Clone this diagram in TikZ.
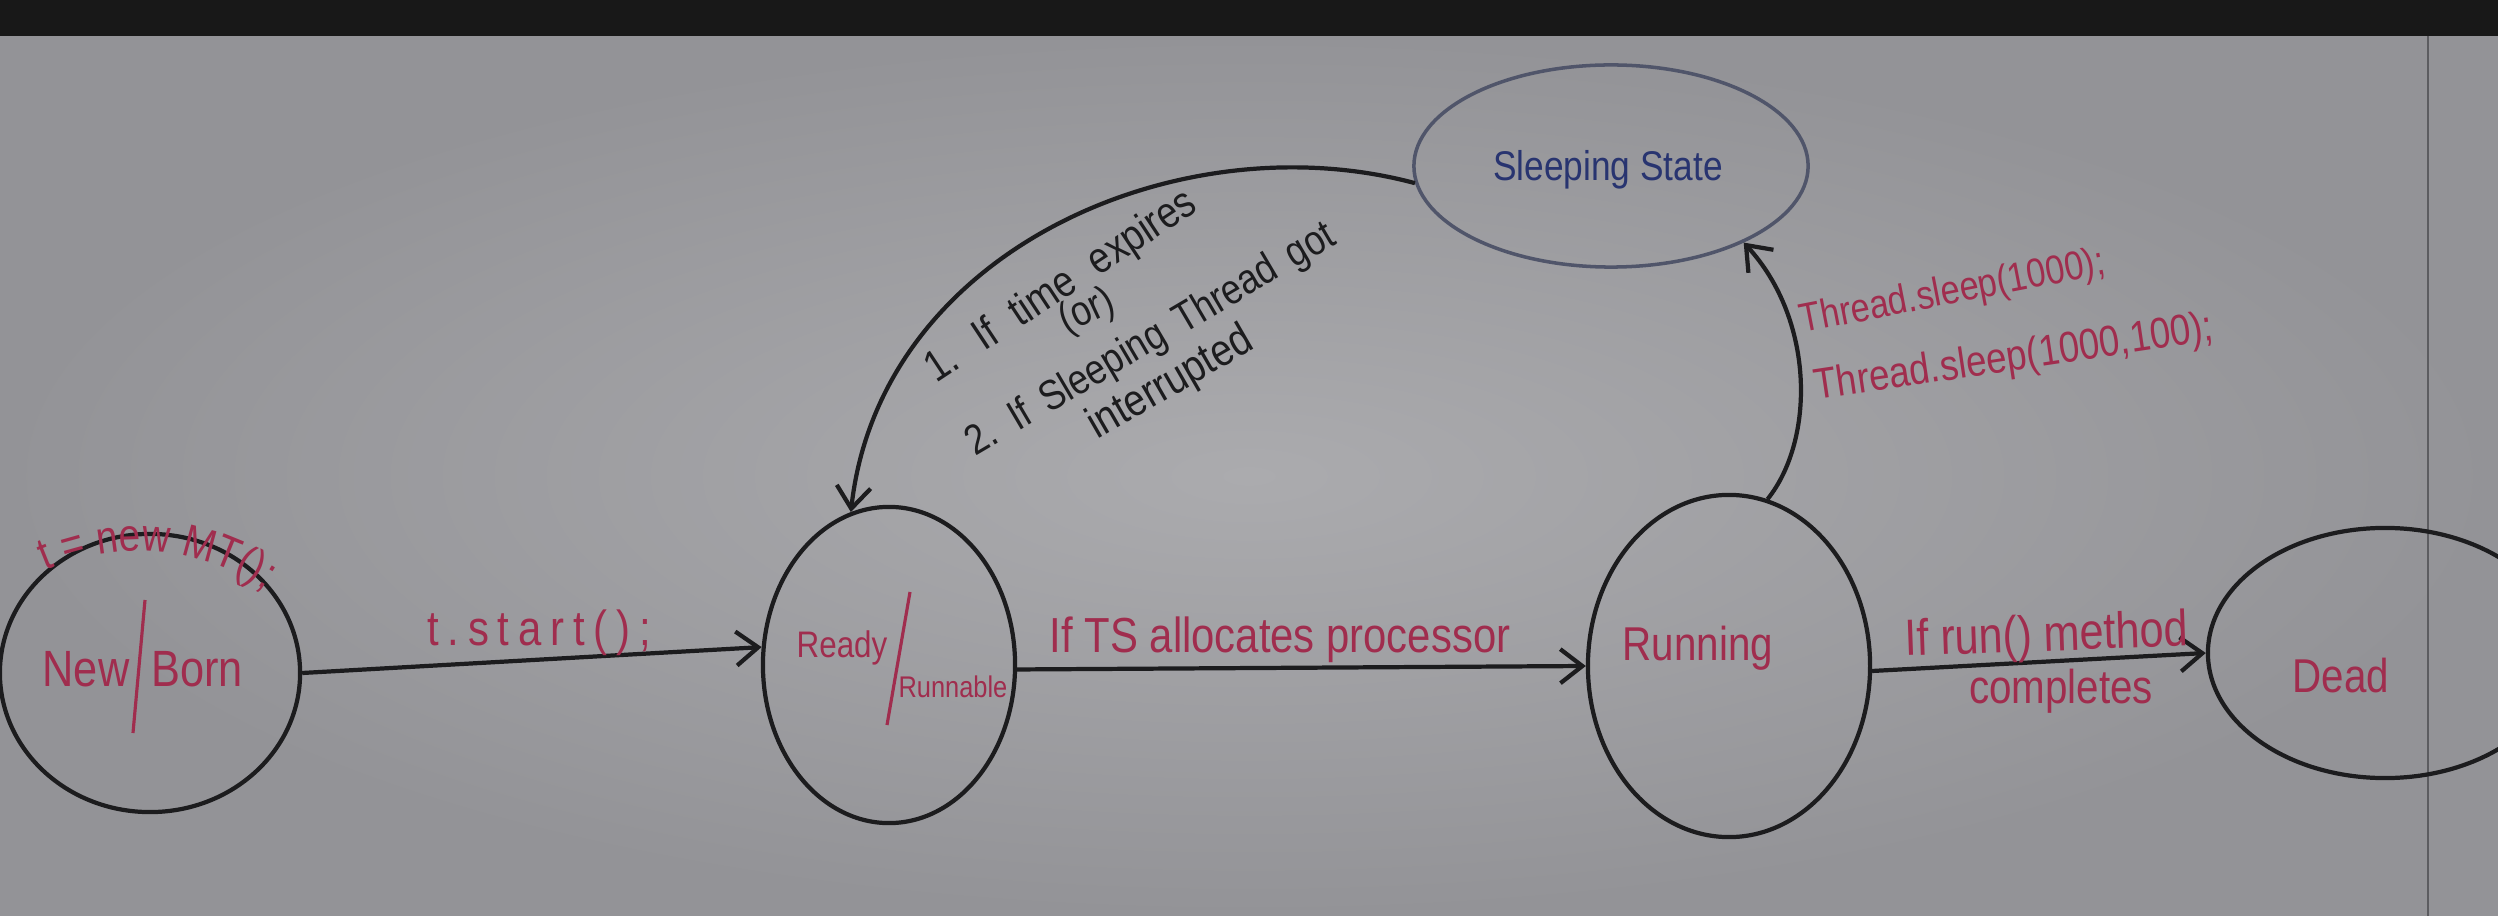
\documentclass[tikz,border=0pt]{standalone}
\usepackage{fontspec}
\setmainfont{Liberation Sans}
\newfontfamily\hand[FakeStretch=0.85]{Liberation Sans}
\usetikzlibrary{shapes.geometric,arrows.meta,decorations.text}
\definecolor{redink}{RGB}{160,45,78}
\definecolor{blueink}{RGB}{40,52,112}
\definecolor{inkblack}{RGB}{28,28,30}
\definecolor{sleepline}{RGB}{80,85,106}
\definecolor{wbin}{RGB}{171,171,174}
\definecolor{wbout}{RGB}{147,147,151}
\definecolor{topbar}{RGB}{24,24,24}
\definecolor{edgeline}{RGB}{92,92,96}
\begin{document}
\begin{tikzpicture}[x=0.01cm,y=-0.01cm,
  state/.style={ellipse, draw=inkblack, line width=1.2pt, inner sep=0pt},
  redlbl/.style={text=redink, font=\hand\fontsize{14}{16}\selectfont, inner sep=0pt},
  blklbl/.style={text=inkblack, font=\hand\fontsize{13.5}{16}\selectfont, inner sep=0pt},
  conn/.style={draw=inkblack, line width=1.2pt, -{Straight Barb[length=2.2mm,width=3.4mm]}},
  slashline/.style={draw=redink, line width=0.9pt}]
\useasboundingbox (0,0) rectangle (2498,916);
\clip (0,0) rectangle (2498,916);
% background
\shade[inner color=wbin, outer color=wbout] (0,36) rectangle (2498,916);
\fill[topbar] (0,0) rectangle (2498,36);
\draw[edgeline, line width=0.8pt] (2428,36) -- (2428,916);

% states
\node[state, minimum width=3.00cm, minimum height=2.78cm] (nb) at (150,673) {};
\node[state, minimum width=2.52cm, minimum height=3.16cm] (rd) at (889,665) {};
\node[state, minimum width=2.82cm, minimum height=3.42cm] (rn) at (1729,666) {};
\node[state, minimum width=3.54cm, minimum height=2.50cm] (dd) at (2385,653) {};
\node[state, draw=sleepline, line width=1.0pt, minimum width=3.94cm, minimum height=2.02cm] (sl) at (1611,166) {};

% state texts
\node[redlbl, anchor=base, font=\hand\fontsize{14.5}{16}\selectfont] (tNew) at (86,686) {New};
\node[redlbl, anchor=base, font=\hand\fontsize{14.5}{16}\selectfont] (tBorn) at (197,686) {Born};
\draw[slashline] (145,600) -- (133,733);
\node[redlbl, anchor=base, font=\hand\fontsize{10.5}{12}\selectfont] (tReady) at (842,657) {Ready};
\node[redlbl, anchor=base, font=\hand\fontsize{8.5}{10}\selectfont] (tRunnable) at (953,697) {Runnable};
\draw[slashline] (910,592) -- (887,725);
\node[redlbl, anchor=base west, font=\hand\fontsize{13.5}{16}\selectfont] (tRunning) at (1622,660) {Running};
\node[redlbl, anchor=base, font=\hand\fontsize{13.5}{16}\selectfont] (tDead) at (2341,692) {Dead};
\node[text=blueink, inner sep=0pt, anchor=base, font=\hand\fontsize{11.8}{14}\selectfont] (tSleep) at (1608,181) {Sleeping State};

% creation text along arc
\path[decorate, decoration={text along path, text align=center,
  text={|\hand\fontsize{13}{15}\selectfont\color{redink}|t = new MT();}}]
  (5,592) .. controls (90,538) and (200,528) .. (302,618);

% connectors
\draw[conn] (nb.0) -- (rd.172);
\draw[conn] (rd.-2) -- (rn.180);
\draw[conn] (rn.-2) -- (dd.180);
\draw[conn] (rn.77) .. controls (1815,440) and (1815,320) .. (sl.-30);
\draw[conn] (sl.185) .. controls (1180,120) and (880,250) .. (rd.104);

% connector labels
\node[redlbl, anchor=base, font={\hand\fontsize{14}{16}\selectfont\addfontfeature{LetterSpace=18}}] (lStart) at (539,645) {t.start();};
\node[redlbl, anchor=base] (lTS) at (1280,652) {If TS allocates processor};
\node[redlbl, anchor=base, rotate=2, font=\hand\fontsize{14.5}{16}\selectfont] (lRun1) at (2047,651) {If run() method};
\node[redlbl, anchor=base, font=\hand\fontsize{13.5}{16}\selectfont] (lRun2) at (2061,703) {completes};
\node[redlbl, anchor=base west, rotate=11, font=\hand\fontsize{11.5}{14}\selectfont] (lSl1) at (1802,333) {Thread.sleep(1000);};
\node[redlbl, anchor=base west, rotate=8.5, font=\hand\fontsize{12.3}{15}\selectfont] (lSl2) at (1816,400) {Thread.sleep(1000,100);};
\node[blklbl, anchor=base west, rotate=33.5, font={\hand\fontsize{12.5}{15}\selectfont\spaceskip=0.52em\relax}] (lW1) at (936,384) {1. If time expires};
\node[blklbl, anchor=base west, rotate=25, font=\hand\fontsize{12}{14}\selectfont] (lWor) at (1066,334) {(or)};
\node[blklbl, anchor=base west, rotate=30.5, font={\hand\fontsize{12}{15}\selectfont\spaceskip=0.38em\relax}] (lW2) at (975,457) {2. If Sleeping Thread got};
\node[blklbl, anchor=base west, rotate=30, font=\hand\fontsize{12.8}{15}\selectfont] (lW3) at (1097,440) {interrupted};
\end{tikzpicture}
\end{document}
